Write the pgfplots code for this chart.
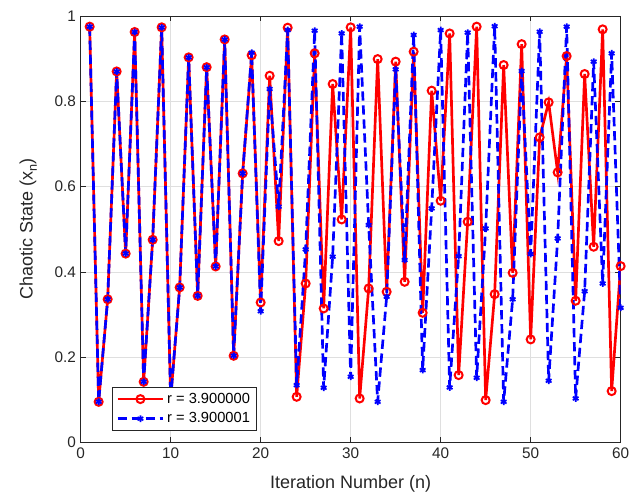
\documentclass[border=0pt]{standalone}
\usepackage{pgfplots}
\pgfplotsset{compat=1.18}
\usepackage{pgfplotstable}
\usepackage{fontspec}
\setmainfont{Liberation Sans}
\definecolor{axgray}{RGB}{38,38,38}
\definecolor{gridgray}{RGB}{223,223,223}
\pgfplotstableread{
n a b
1 0.975 0.975
2 0.0957 0.0957
3 0.336 0.336
4 0.870 0.870
5 0.443 0.443
6 0.9625 0.9625
7 0.1426 0.1426
8 0.4756 0.4756
9 0.9734 0.9734
10 0.103 0.103
11 0.3638 0.3638
12 0.903 0.903
13 0.344 0.344
14 0.880 0.880
15 0.413 0.413
16 0.945 0.945
17 0.2036 0.2036
18 0.631 0.631
19 0.908 0.914
20 0.3286 0.308
21 0.860 0.829
22 0.4725 0.553
23 0.9726 0.967
24 0.1075 0.1348
25 0.373 0.453
26 0.9125 0.9656
27 0.3146 0.1286
28 0.8406 0.4358
29 0.5232 0.9593
30 0.9734 0.1544
31 0.1036 0.975
32 0.3615 0.510
33 0.899 0.0957
34 0.3537 0.342
35 0.893 0.875
36 0.377 0.428
37 0.9164 0.9555
38 0.3044 0.170
39 0.825 0.549
40 0.567 0.967
41 0.959 0.1294
42 0.1583 0.437
43 0.5178 0.961
44 0.975 0.152
45 0.0997 0.502
46 0.348 0.976
47 0.885 0.0957
48 0.398 0.336
49 0.934 0.871
50 0.242 0.442
51 0.7155 0.963
52 0.7976 0.145
53 0.6334 0.4787
54 0.906 0.975
55 0.3326 0.1036
56 0.864 0.355
57 0.4592 0.893
58 0.9687 0.373
59 0.1208 0.9125
60 0.4138 0.316
}\datatable
\begin{document}
\begin{tikzpicture}
\path[use as bounding box] (-60.5pt,-36.4pt) rectangle (422.5pt,332pt);
\begin{axis}[
  at={(0,0)}, anchor=south west,
  scale only axis, width=405pt, height=320pt,
  xmin=0, xmax=60, ymin=0, ymax=1,
  xtick={0,10,...,60}, ytick={0,0.2,...,1},
  yticklabels={0,0.2,0.4,0.6,0.8,1},
  grid=major,
  major grid style={gridgray, line width=0.5pt},
  axis line style={axgray, line width=0.6pt},
  tick style={axgray, line width=0.6pt},
  tick align=inside, major tick length=4pt,
  ticklabel style={font=\fontsize{11.5}{13}\selectfont, text=axgray},
  /pgf/number format/assume math mode=true,
  xlabel={Iteration Number (n)},
  ylabel={Chaotic State (x\raisebox{-0.45ex}{\fontsize{9.5}{10}\selectfont n})},
  every axis x label/.style={at={(axis description cs:0.5,0)}, anchor=center, yshift=-30.6pt,
    font=\fontsize{13.5}{15}\selectfont, text=axgray},
  every axis y label/.style={at={(axis description cs:-0.097,0.5)}, rotate=90, anchor=center,
    font=\fontsize{13.5}{15}\selectfont, text=axgray},
  legend style={at={(axis description cs:0.058,0.027)}, anchor=south west,
    font=\fontsize{11}{13}\selectfont, draw=axgray, line width=0.5pt,
    inner xsep=3pt, inner ysep=2.5pt, row sep=1.5pt, text=black, fill=white},
  legend cell align=left,
  legend image code/.code={
    \draw[mark repeat=2,mark phase=2,#1] plot coordinates {(0cm,0cm) (0.6cm,0cm) (1.2cm,0cm)};
  },
]
\addplot[red, line width=2pt, mark=o, mark size=3pt, mark options={solid, line width=1.5pt}] table[x=n, y=a] {\datatable};
\addlegendentry{r = 3.900000}
\addplot[blue, line width=2pt, dash pattern=on 7pt off 3.5pt, mark=asterisk, mark size=2.5pt, mark options={solid, line width=1.3pt}] table[x=n, y=b] {\datatable};
\addlegendentry{r = 3.900001}
\end{axis}
\end{tikzpicture}
\end{document}
